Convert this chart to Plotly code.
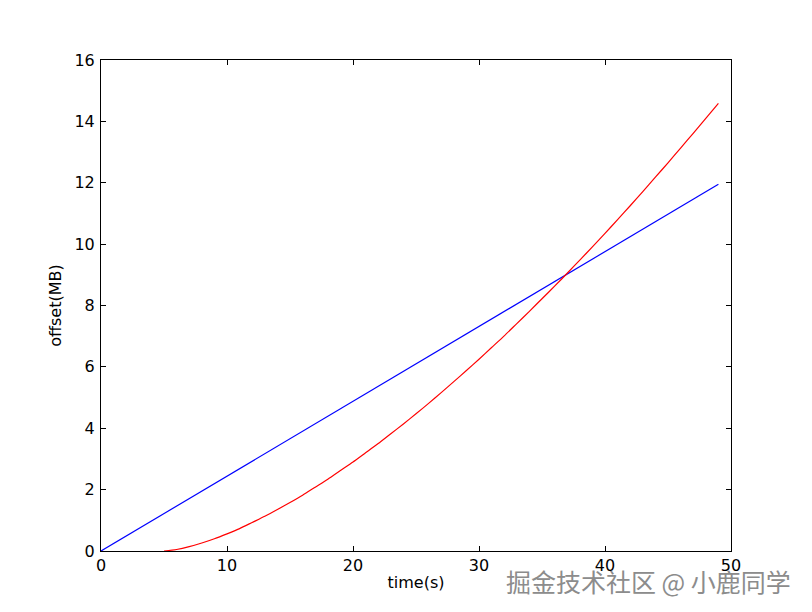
import plotly.graph_objects as go

# data
red_time = list(range(5, 50))
red_offset = [0,
              0.05, 0.14, 0.26, 0.40, 0.56, 0.73, 0.93, 1.13, 1.35, 1.58,
              1.82, 2.08, 2.34, 2.62, 2.90, 3.20, 3.50, 3.82, 4.14, 4.47,
              4.81, 5.16, 5.52, 5.88, 6.25, 6.63, 7.01, 7.41, 7.81, 8.22,
              8.63, 9.05, 9.48, 9.91, 10.35, 10.80, 11.25, 11.71, 12.18, 12.65,
              13.13, 13.61, 14.10, 14.59]
blue_time = [0, 49]
blue_offset = [0, 11.95]

x_ticks = [0, 10, 20, 30, 40, 50]
y_ticks = [0, 2, 4, 6, 8, 10, 12, 14, 16]

fig = go.Figure()
fig.add_trace(go.Scatter(x=blue_time, y=blue_offset, mode="lines",
                         line=dict(color="#0000ff", width=1.2), showlegend=False))
fig.add_trace(go.Scatter(x=red_time, y=red_offset, mode="lines",
                         line=dict(color="#ff0000", width=1.2, shape="spline", smoothing=0.6),
                         showlegend=False))

font = dict(family="DejaVu Sans", size=16, color="black")
axis_common = dict(showgrid=False, zeroline=False, showline=True, linecolor="black",
                   linewidth=1, mirror="ticks", ticks="inside", ticklen=5,
                   tickcolor="black", tickfont=font, layer="above traces")

fig.update_layout(
    width=812, height=612,
    margin=dict(l=93, r=89, t=52, b=69),
    paper_bgcolor="white", plot_bgcolor="white",
    xaxis=dict(range=[0, 50], tickvals=x_ticks, ticklabelstandoff=0,
               title=dict(text="time(s)", font=font, standoff=2),
               **axis_common),
    yaxis=dict(range=[0, 16], tickvals=y_ticks, ticklabelstandoff=2,
               title=dict(text="offset(MB)", font=font, standoff=8),
               **axis_common),
    annotations=[dict(text="掘金技术社区 @ 小鹿同学", xref="paper", yref="paper",
                      x=1.0, y=0, xanchor="right", yanchor="middle", yshift=-30, xshift=62,
                      showarrow=False,
                      font=dict(family="Noto Sans CJK SC", size=25, color="#8c8c8c"))]
)

fig.write_html("out.html")
